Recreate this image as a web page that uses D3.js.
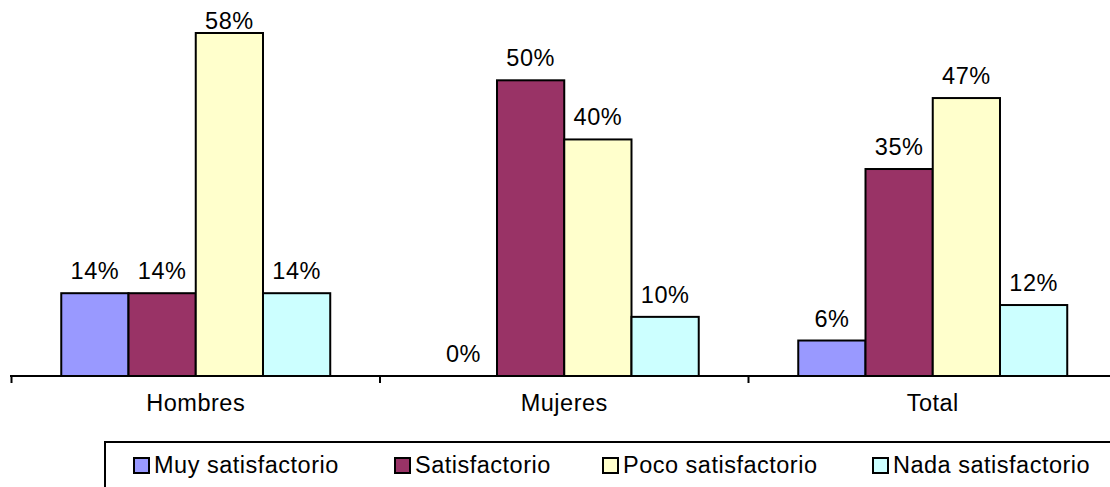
<!DOCTYPE html>
<html><head><meta charset="utf-8">
<script src="https://cdn.jsdelivr.net/npm/d3@7"></script>
<style>body{margin:0;background:#fff}svg{display:block;font-family:"Liberation Sans",Arial,sans-serif}text{letter-spacing:0.5px}</style>
</head><body><svg id="c" width="1110" height="487"></svg>
<script>
const categories = ["Hombres", "Mujeres", "Total"];
const seriesNames = ["Muy satisfactorio", "Satisfactorio", "Poco satisfactorio", "Nada satisfactorio"];
const seriesColors = ["#9999FF", "#993366", "#FFFFCC", "#CCFFFF"];
const muySatisfactorio = [0.14, 0.00, 0.06];
const satisfactorio = [0.14, 0.50, 0.35];
const pocoSatisfactorio = [0.58, 0.40, 0.47];
const nadaSatisfactorio = [0.14, 0.10, 0.12];
const seriesValues = [muySatisfactorio, satisfactorio, pocoSatisfactorio, nadaSatisfactorio];

const svg = d3.select("#c");
const baseY = 376;
const FS = 23.5;
const x0 = d3.scaleBand().domain(categories).range([11.5, 11.5 + 3 * 368.5]);
const x1 = d3.scaleBand().domain(seriesNames).range([0, x0.bandwidth()]).paddingOuter(0.74).paddingInner(0);
const y = d3.scaleLinear().domain([0, 0.58]).range([baseY, 33]);
const fmt = d3.format(".0%");

const g = svg.append("g");
categories.forEach((c, ci) => {
  seriesNames.forEach((s, si) => {
    const v = seriesValues[si][ci];
    const bx = x0(c) + x1(s);
    if (v > 0) {
      g.append("rect").attr("x", bx).attr("y", y(v)).attr("width", x1.bandwidth()).attr("height", baseY - y(v))
        .attr("fill", seriesColors[si]).attr("stroke", "#000").attr("stroke-width", 2);
    }
    g.append("text").attr("x", bx + x1.bandwidth() / 2).attr("y", Math.max(29, y(v) - 14)).attr("text-anchor", "middle")
      .attr("font-size", FS).attr("fill", "#000").text(fmt(v));
  });
});

// axis
const axis = d3.axisBottom(x0).tickSize(0).tickPadding(0);
const ag = svg.append("g").attr("transform", `translate(0,${baseY})`).call(axis);
ag.select(".domain").attr("d", `M10,0H1110`).attr("stroke", "#000").attr("stroke-width", 2);
ag.selectAll(".tick text").attr("font-size", FS).attr("fill", "#000").attr("font-family", "Liberation Sans, Arial, sans-serif").attr("dy", 0).attr("y", 35);
const boundaries = [0, 1, 2, 3].map(i => 11.5 + i * x0.step());
ag.selectAll(".bnd").data(boundaries).enter().append("line").attr("class", "bnd")
  .attr("x1", d => d).attr("x2", d => d).attr("y1", 0).attr("y2", 7).attr("stroke", "#000").attr("stroke-width", 2);

// legend
const lg = svg.append("g");
lg.append("rect").attr("x", 105).attr("y", 442).attr("width", 1020).attr("height", 60).attr("fill", "none").attr("stroke", "#000").attr("stroke-width", 2);
const legendX = [134, 395, 603, 873];
seriesNames.forEach((s, i) => {
  lg.append("rect").attr("x", legendX[i]).attr("y", 458).attr("width", 15).attr("height", 15)
    .attr("fill", seriesColors[i]).attr("stroke", "#000").attr("stroke-width", 2);
  lg.append("text").attr("x", legendX[i] + 20).attr("y", 473).attr("font-size", FS).attr("fill", "#000").text(s);
});
</script></body></html>
